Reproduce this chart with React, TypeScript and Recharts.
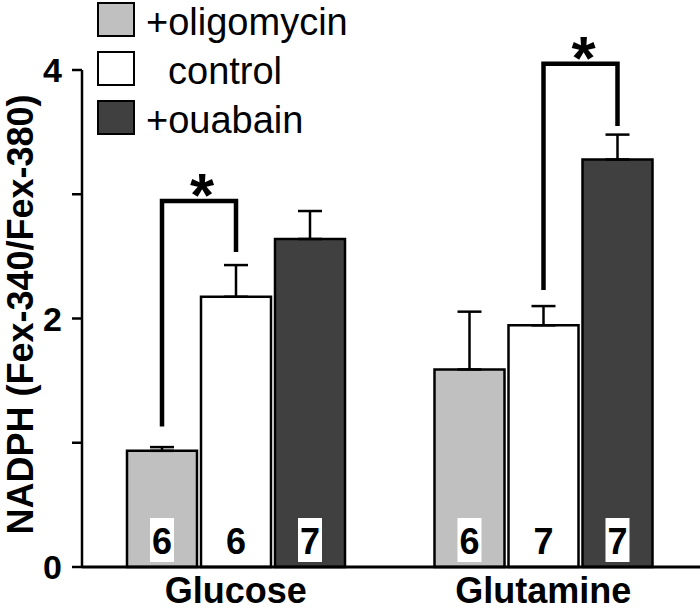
import { BarChart, Bar, XAxis, YAxis, ErrorBar, LabelList, Legend } from "recharts";

const categories = ["Glucose", "Glutamine"];
const seriesNames = ["+oligomycin", "control", "+ouabain"];
const oligomycin = [0.935, 1.59];
const oligomycinSem = [0.03, 0.465];
const control = [2.175, 1.945];
const controlSem = [0.255, 0.155];
const ouabain = [2.64, 3.28];
const ouabainSem = [0.225, 0.2];
// number of cells per bar
const nOligomycin = [6, 6];
const nControl = [6, 7];
const nOuabain = [7, 7];
const yTicks = [0, 1, 2, 3, 4];

// significance brackets, one per category: start bar, leg ends and top (in y units)
const bracketFrom = ["oligomycin", "control"];
const bracketLeftEnd = [1.13, 2.23];
const bracketTop = [2.945, 4.05];
const bracketRightEnd = [2.535, 3.55];

const FONT = '"Liberation Sans", Arial, Helvetica, sans-serif';
const BAR_GAP = 4;

const SERIES = [
  { key: "oligomycin", name: seriesNames[0], fill: "#c0c0c0", values: oligomycin, sem: oligomycinSem, n: nOligomycin },
  { key: "control", name: seriesNames[1], fill: "#ffffff", values: control, sem: controlSem, n: nControl },
  { key: "ouabain", name: seriesNames[2], fill: "#404040", values: ouabain, sem: ouabainSem, n: nOuabain },
];

const data = categories.map((category, i) => {
  const row: any = { category };
  SERIES.forEach((s) => {
    row[s.key] = s.values[i];
    row[s.key + "Err"] = [0, s.sem[i]]; // only the upper half is drawn
    row[s.key + "N"] = s.n[i];
  });
  return row;
});

function box(p: any) {
  const vb = p.viewBox ?? p;
  return { x: vb.x ?? p.x, y: vb.y ?? p.y, width: vb.width ?? p.width, height: vb.height ?? p.height };
}

function CountLabel(p: any) {
  const { x, y, width, height } = box(p);
  const cx = x + width / 2;
  const base = y + height;
  return (
    <g>
      <rect x={cx - 12} y={base - 49} width={24} height={44} fill="#fff" />
      <text x={cx} y={base - 13} textAnchor="middle" fontFamily={FONT} fontWeight="bold" fontSize={36} fill="#000">
        {p.value}
      </text>
    </g>
  );
}

function makeBracket(seriesKey: string, values: number[]) {
  return (p: any) => {
    const i = categories.indexOf(p.value);
    if (i < 0 || bracketFrom[i] !== seriesKey) return null;
    const { x, y, width, height } = box(p);
    const base = y + height;
    const ppu = height / values[i];
    const yv = (v: number) => base - v * ppu;
    const x1 = x + width / 2;
    const x2 = x1 + width + BAR_GAP;
    return (
      <g>
        <path
          d={`M${x1},${yv(bracketLeftEnd[i])} V${yv(bracketTop[i])} H${x2} V${yv(bracketRightEnd[i])}`}
          fill="none"
          stroke="#000"
          strokeWidth={4.5}
        />
        <text x={(x1 + x2) / 2 + 3} y={yv(bracketTop[i]) + 15} textAnchor="middle" fontFamily={FONT} fontWeight="bold" fontSize={62} fill="#000">
          *
        </text>
      </g>
    );
  };
}

function XTick(p: any) {
  return (
    <text x={p.x} y={p.y} dy={34} textAnchor="middle" fontFamily={FONT} fontWeight="bold" fontSize={36} fill="#000">
      {p.payload.value}
    </text>
  );
}

function YTick(p: any) {
  const v = p.payload.value;
  if (v % 2 !== 0) return null;
  return (
    <text x={p.x} y={p.y} dy={12} textAnchor="end" fontFamily={FONT} fontWeight="bold" fontSize={34} fill="#000">
      {v}
    </text>
  );
}

function YTitle(p: any) {
  const vb = p.viewBox;
  const cx = vb.x + 20;
  const cy = vb.y + vb.height / 2 - 4;
  return (
    <text
      x={cx}
      y={cy}
      transform={`rotate(-90, ${cx}, ${cy})`}
      textAnchor="middle"
      dominantBaseline="central"
      fontFamily={FONT}
      fontWeight="bold"
      fontSize={36}
      fill="#000"
    >
      NADPH (Fex-340/Fex-380)
    </text>
  );
}

function LegendBox() {
  return (
    <div style={{ fontFamily: FONT, fontSize: 38, color: "#000" }}>
      {SERIES.map((s) => (
        <div key={s.key} style={{ display: "flex", alignItems: "center", height: 49 }}>
          <div style={{ width: 38, height: 35, boxSizing: "border-box", background: s.fill, border: "2.5px solid #000" }} />
          <span style={{ marginLeft: s.name.startsWith("+") ? 11 : 33, lineHeight: "38px", position: "relative", top: 2 }}>{s.name}</span>
        </div>
      ))}
    </div>
  );
}

export default function App() {
  return (
    <div style={{ position: "absolute", left: 0, top: 0, background: "#fff" }}>
      <BarChart
        width={700}
        height={612}
        data={data}
        margin={{ top: 70, right: 0, left: 0, bottom: 0 }}
        barSize={70}
        barGap={BAR_GAP}
      >
        <XAxis
          dataKey="category"
          height={45}
          padding={{ left: 0, right: 3 }}
          interval={0}
          tickLine={false}
          tickSize={0}
          axisLine={{ stroke: "#000", strokeWidth: 3 }}
          tick={<XTick />}
        />
        <YAxis
          width={82}
          domain={[0, 4]}
          ticks={yTicks}
          interval={0}
          tickSize={10}
          tickMargin={10}
          axisLine={{ stroke: "#000", strokeWidth: 2.5 }}
          tickLine={{ stroke: "#000", strokeWidth: 2.5 }}
          tick={<YTick />}
          label={YTitle}
        />
        <Legend
          layout="vertical"
          verticalAlign="middle"
          align="center"
          content={<LegendBox />}
          wrapperStyle={{ top: -5, left: 97, width: "auto", height: "auto" }}
        />
        {SERIES.map((s) => (
          <Bar key={s.key} dataKey={s.key} name={s.name} fill={s.fill} stroke="#000" strokeWidth={2.5} isAnimationActive={false}>
            <ErrorBar dataKey={s.key + "Err"} width={12} stroke="#000" strokeWidth={2.5} isAnimationActive={false} />
            <LabelList dataKey={s.key + "N"} content={CountLabel} />
            <LabelList dataKey="category" content={makeBracket(s.key, s.values)} />
          </Bar>
        ))}
      </BarChart>
    </div>
  );
}
